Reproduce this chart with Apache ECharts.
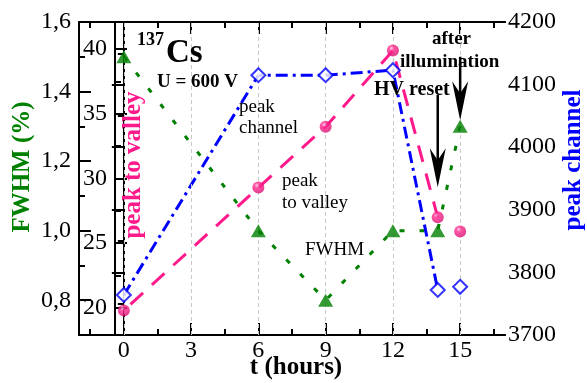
<!DOCTYPE html>
<html>
<head>
<meta charset="utf-8">
<script src="https://cdn.jsdelivr.net/npm/echarts@6/dist/echarts.min.js"></script>
<style>
  html, body { margin: 0; padding: 0; background: #fff; }
  #chart { width: 587px; height: 383px; }
</style>
</head>
<body>
<div id="chart"></div>
<script>
// data
const hours = [0, 6, 9, 12, 14, 15];
const fwhm = [1.5, 1.0, 0.8, 1.0, 1.0, 1.3];
const peakToValley = [19.8, 29.3, 34.0, 39.9, 27.0, 25.9];
const peakChannel = [3764, 4115, 4115, 4123, 3772, 3777];
const joined = 5; // last point (15 h) of P/V and channel is not joined

// ticks
const xMajor = [0, 3, 6, 9, 12, 15];
const xMinor = [-1.5, 1.5, 4.5, 7.5, 10.5, 13.5, 16.5];
const fwhmMajor = [0.8, 1.0, 1.2, 1.4, 1.6];
const fwhmMinor = [0.9, 1.1, 1.3, 1.5];
const pvMajor = [20, 25, 30, 35, 40];
const pvMinor = [22.5, 27.5, 32.5, 37.5];

const SERIF = "'Liberation Serif', 'Times New Roman', serif";
const GREEN = '#008000', PINK = '#ff1a8c', BLUE = '#0000ff';

const pairs = (ys) => hours.map((h, i) => [h, ys[i]]);

function axisBase(pos, min, max, ticks, len, labels, fmt) {
  return {
    type: 'value', position: pos, min: min, max: max,
    axisLine: { show: true, onZero: false, lineStyle: { color: '#000', width: 2 } },
    axisTick: { show: true, inside: true, length: len, customValues: ticks,
                lineStyle: { color: '#000', width: 2 } },
    axisLabel: labels ? { show: true, customValues: ticks, color: '#000',
                          fontFamily: SERIF, fontSize: 24, formatter: fmt }
                      : { show: false },
    splitLine: { show: false }
  };
}

const comma = (v) => v.toFixed(1).replace('.', ',');

let getchart = echarts.init(document.getElementById('chart'));

var option = {
  animation: false,
  grid: { left: 79, right: 82, top: 22, bottom: 48 },
  xAxis: [
    Object.assign(axisBase('bottom', -2, 17, xMajor, 12, true),
      { axisLabel: { show: true, customValues: xMajor, color: '#000', fontFamily: SERIF, fontSize: 24, margin: 4,
                     formatter: (v) => String(v) } }),
    axisBase('bottom', -2, 17, xMinor, 6, false),
    axisBase('top', -2, 17, xMajor, 12, false),
    axisBase('top', -2, 17, xMinor, 6, false)
  ],
  yAxis: [
    axisBase('left', 0.7, 1.6, fwhmMajor, 12, true, comma),
    axisBase('left', 0.7, 1.6, fwhmMinor, 6, false),
    Object.assign(axisBase('left', 17.9, 42.1, pvMajor, 12, true, (v) => String(v)), { offset: -36 }),
    Object.assign(axisBase('left', 17.9, 42.1, pvMinor, 6, false), { offset: -36 }),
    {
      type: 'value', position: 'right', min: 3700, max: 4200, interval: 100,
      axisLine: { show: true, lineStyle: { color: '#000', width: 2 } },
      axisTick: { show: true, inside: true, length: 12, lineStyle: { color: '#000', width: 2 } },
      minorTick: { show: true, splitNumber: 2, length: 6, lineStyle: { color: '#000', width: 2 } },
      axisLabel: { color: '#000', fontFamily: SERIF, fontSize: 24, margin: 3,
                   formatter: (v) => String(v) },
      splitLine: { show: false }
    }
  ],
  series: [
    {
      name: 'FWHM line', type: 'line', xAxisIndex: 0, yAxisIndex: 0,
      data: pairs(fwhm), symbol: 'none',
      lineStyle: { color: GREEN, width: 3, type: [5, 15] },
      markLine: {
        silent: true, symbol: 'none', label: { show: false },
        lineStyle: { color: '#c8c8c8', width: 1, type: [4, 3] },
        data: xMajor.map((v) => ({ xAxis: v }))
      },
      z: 2
    },
    {
      name: 'P/V line', type: 'line', xAxisIndex: 0, yAxisIndex: 2,
      data: pairs(peakToValley).slice(0, joined), symbol: 'none',
      lineStyle: { color: PINK, width: 3, type: [17, 12], dashOffset: 20 }, z: 2
    },
    {
      name: 'channel line', type: 'line', xAxisIndex: 0, yAxisIndex: 4,
      data: pairs(peakChannel).slice(0, joined), symbol: 'none',
      lineStyle: { color: BLUE, width: 3, type: [12, 5, 3, 5] }, z: 2
    },
    {
      name: 'FWHM', type: 'scatter', xAxisIndex: 0, yAxisIndex: 0,
      data: pairs(fwhm), symbol: 'triangle', symbolSize: [15, 13],
      itemStyle: { color: GREEN }, z: 5
    },
    {
      name: 'peak to valley', type: 'scatter', xAxisIndex: 0, yAxisIndex: 2,
      data: pairs(peakToValley), symbol: 'circle', symbolSize: 12,
      itemStyle: {
        color: { type: 'radial', x: 0.38, y: 0.32, r: 0.7,
          colorStops: [{ offset: 0, color: '#ffc4e2' }, { offset: 0.3, color: '#ff2a90' }, { offset: 1, color: '#d80e72' }] }
      }, z: 5
    },
    {
      name: 'peak channel', type: 'scatter', xAxisIndex: 0, yAxisIndex: 4,
      data: pairs(peakChannel), symbol: 'diamond', symbolSize: 14,
      itemStyle: { color: '#fff', borderColor: BLUE, borderWidth: 2 }, z: 5
    }
  ]
};

getchart.setOption(option);

// text and arrows
function txt(x, y, text, font, fill, align, rot) {
  return { type: 'text', x: x, y: y, rotation: rot || 0, z: 10,
    style: { text: text, font: font, fill: fill || '#000', align: align || 'left', verticalAlign: 'middle' } };
}
function arrow(from, to) {
  const a = getchart.convertToPixel({ xAxisIndex: 0, yAxisIndex: 0 }, from);
  const b = getchart.convertToPixel({ xAxisIndex: 0, yAxisIndex: 0 }, to);
  const tipY = b[1];
  return [
    { type: 'line', z: 9, shape: { x1: a[0], y1: a[1], x2: b[0], y2: tipY - 20 },
      style: { stroke: '#000', lineWidth: 2.5 } },
    { type: 'polygon', z: 9, shape: { points: [[b[0], tipY], [b[0] - 8, tipY - 39], [b[0], tipY - 27], [b[0] + 8, tipY - 39]] },
      style: { fill: '#000' } }
  ];
}
const tip1 = fwhm[5] + 6 / 347.5;
const elements = [
  txt(23, 167, 'FWHM (%)', 'bold 25px ' + SERIF, GREEN, 'center', Math.PI / 2),
  txt(134, 165, 'peak to valley', 'bold 25px ' + SERIF, PINK, 'center', Math.PI / 2),
  txt(574, 160, 'peak channel', 'bold 25px ' + SERIF, BLUE, 'center', Math.PI / 2),
  txt(296, 368, 't (hours)', 'bold 25px ' + SERIF, '#000', 'center'),
  txt(137, 40, '137', 'bold 18px ' + SERIF),
  txt(166, 53, 'Cs', 'bold 33px ' + SERIF),
  txt(157, 82, 'U = 600 V', 'bold 19px ' + SERIF),
  txt(239, 107, 'peak', '19px ' + SERIF),
  txt(239, 128, 'channel', '19px ' + SERIF),
  txt(282, 181, 'peak', '19px ' + SERIF),
  txt(282, 203, 'to valley', '19px ' + SERIF),
  txt(305, 250, 'FWHM', '19px ' + SERIF),
  txt(432, 39, 'after', 'bold 19px ' + SERIF),
  txt(400, 62, 'illumination', 'bold 19px ' + SERIF),
  txt(374, 90, 'HV reset', 'bold 20px ' + SERIF)
].concat(arrow([15, 1.5], [15, tip1]), arrow([14, 1.39], [14, 1.125]));

getchart.setOption({ graphic: { elements: elements } });
</script>
</body>
</html>
